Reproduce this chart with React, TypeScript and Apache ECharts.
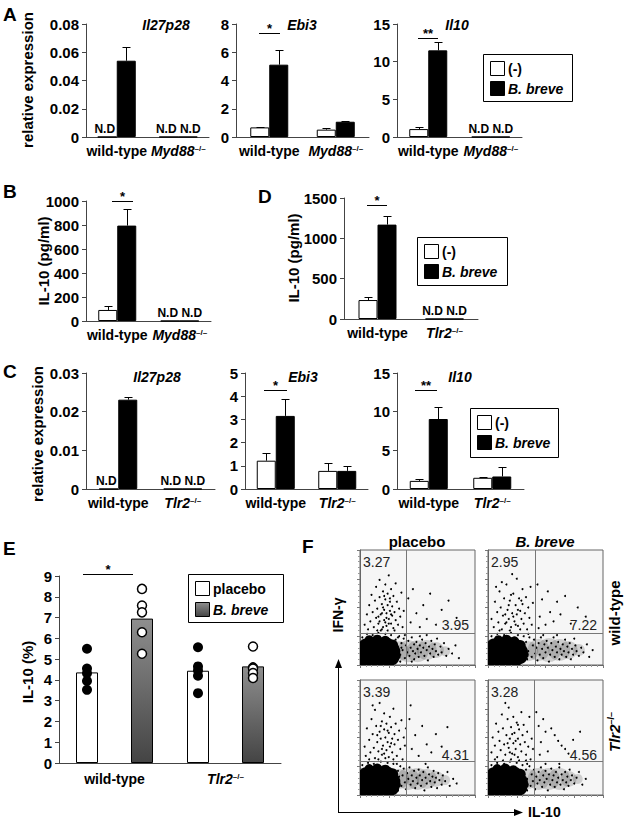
import React, { useEffect, useRef } from 'react';
import * as echarts from 'echarts';

const FONT = "'Liberation Sans', Arial, Helvetica, sans-serif";

// ---------- categories ----------
const CATS_MYD88 = ['wild-type', 'Myd88'];
const CATS_TLR2 = ['wild-type', 'Tlr2'];

// ---------- Panel A (Myd88-/-), null = N.D ----------
const A_IL27_NEG = [null, null];
const A_IL27_NEG_SD = [null, null];
const A_IL27_POS = [0.054, null];
const A_IL27_POS_SD = [0.0095, null];
const A_EBI3_NEG = [0.68, 0.52];
const A_EBI3_NEG_SD = [0.05, 0.12];
const A_EBI3_POS = [5.12, 1.08];
const A_EBI3_POS_SD = [1.03, 0.06];
const A_IL10_NEG = [1.05, null];
const A_IL10_NEG_SD = [0.32, null];
const A_IL10_POS = [11.5, null];
const A_IL10_POS_SD = [1.1, null];

// ---------- Panel B (Myd88-/-, pg/ml) ----------
const B_NEG = [92, null];
const B_NEG_SD = [33, null];
const B_POS = [795, null];
const B_POS_SD = [135, null];

// ---------- Panel D (Tlr2-/-, pg/ml) ----------
const D_NEG = [235, null];
const D_NEG_SD = [35, null];
const D_POS = [1170, null];
const D_POS_SD = [110, null];

// ---------- Panel C (Tlr2-/-) ----------
const C_IL27_NEG = [null, null];
const C_IL27_NEG_SD = [null, null];
const C_IL27_POS = [0.0231, null];
const C_IL27_POS_SD = [0.0008, null];
const C_EBI3_NEG = [1.22, 0.78];
const C_EBI3_NEG_SD = [0.32, 0.32];
const C_EBI3_POS = [3.15, 0.78];
const C_EBI3_POS_SD = [0.73, 0.2];
const C_IL10_NEG = [1.05, 1.45];
const C_IL10_NEG_SD = [0.2, 0.08];
const C_IL10_POS = [9.05, 1.62];
const C_IL10_POS_SD = [1.5, 1.2];

// ---------- axis ranges (max, interval) ----------
const Y_MAX = [0.08, 8, 15, 1000, 1500, 0.03, 5, 15, 9];
const Y_INT = [0.02, 2, 5, 200, 500, 0.01, 1, 5, 1];

// ---------- Panel E ----------
const E_CATS = ['wild-type', 'Tlr2'];
const E_PLACEBO = [4.36, 4.44];
const E_BREVE = [6.95, 4.65];
const E_PLACEBO_PTS = [
  [5.5, 4.55, 4.32, 3.95, 3.52],
  [5.57, 4.65, 4.45, 4.2, 3.36],
];
const E_BREVE_PTS = [
  [8.38, 7.58, 7.25, 6.29, 5.26],
  [5.61, 4.6, 4.55, 4.33, 4.09],
];

// ---------- Panel F (flow cytometry, x = IL-10, y = IFN-γ, 0-100) ----------
const F_QX = [40, 41, 40, 40];
const F_QY = [28, 28, 29, 29];
const F_PCT_UL = ['3.27', '2.95', '3.39', '3.28'];
const F_PCT_LR = ['3.95', '7.22', '4.31', '4.56'];

const F1_DOTS = [
  [4,35],[6,44],[7,31],[8,52],[9,38],[10,61],[11,46],[12,33],[13,56],[14,41],[14,68],[15,49],[16,36],[17,59],[17,74],[18,44],[19,53],[19,31],[20,64],[21,39],[21,48],[22,57],[22,70],[23,34],[23,45],[24,52],[24,62],[25,40],[25,78],[26,47],[26,55],[27,36],[27,66],[28,43],[28,51],[29,60],[29,32],[30,46],[31,39],[31,71],[32,55],[33,35],[34,49],[35,42],[36,63],[37,33],[38,47],[20,33],[18,30],[24,30],[30,30],[15,30],
  [16,42],[20,50],[23,41],[25,36],[19,45],[27,44],[21,60],[17,38],[26,58],[22,37],
  [42,58],[44,37],[46,66],[49,45],[52,33],[55,52],[58,40],[61,62],[66,35],[71,48],[77,56],[84,41],
  [31,22],[33,16],[34,25],[35,9],[36,19],[37,13],[38,23],[39,6],[40,17],[41,11],[42,21],[43,8],[44,15],[45,24],[46,12],[47,5],[47,18],[48,10],[49,20],[50,14],[51,7],[52,17],[53,11],[54,22],[55,15],[56,8],[57,19],[58,13],[59,4],[60,16],[61,10],[62,21],[63,14],[64,7],[65,18],[66,12],[67,23],[68,9],[70,16],[71,11],[73,19],[75,8],[77,14],[80,10],[83,17],[86,6],[45,3],[52,25],[58,26],[39,26],
  [2,24],[6,27],[11,26],[16,28],[22,27],[27,26],[33,24],[35,3],[33,11],[36,15],
];
const F2_DOTS = [
  [3,40],[5,33],[6,55],[8,46],[9,37],[10,64],[11,50],[12,31],[13,43],[14,58],[15,36],[16,70],[17,48],[18,40],[19,56],[20,33],[21,45],[22,62],[23,38],[24,52],[25,75],[25,44],[26,34],[27,58],[28,47],[29,40],[30,66],[30,53],[31,36],[32,45],[33,59],[34,31],[35,50],[36,41],[37,68],[38,35],[39,54],[12,72],[21,79],[7,68],[28,31],[19,30],[10,30],
  [15,44],[18,52],[22,42],[24,35],[26,48],[20,61],[16,37],[29,56],
  [43,70],[45,42],[47,57],[50,35],[52,64],[54,46],[57,38],[60,55],[63,44],[67,60],[72,36],[78,50],[44,32],[85,42],
  [33,20],[35,12],[36,24],[38,7],[39,17],[40,22],[41,10],[42,15],[43,4],[44,19],[45,9],[46,24],[47,14],[48,6],[49,18],[50,11],[51,21],[52,15],[53,3],[54,9],[55,19],[56,13],[57,24],[58,7],[59,16],[60,11],[61,20],[62,5],[63,14],[64,9],[65,18],[66,12],[67,22],[68,7],[69,16],[70,11],[71,19],[72,5],[73,14],[74,9],[76,17],[77,12],[79,8],[81,15],[83,11],[86,18],[88,7],[91,13],[60,26],[48,26],[75,23],
  [3,25],[8,27],[14,26],[20,28],[26,26],[31,25],[34,5],[32,14],[35,27],
];
const F3_DOTS = [
  [4,42],[5,34],[6,58],[8,48],[9,37],[10,66],[11,53],[12,41],[13,32],[13,74],[14,60],[15,46],[16,38],[17,55],[17,80],[18,49],[19,64],[19,35],[20,43],[21,71],[21,57],[22,50],[23,39],[23,62],[24,46],[25,33],[25,54],[26,68],[26,42],[27,59],[28,49],[28,37],[29,75],[30,53],[30,44],[31,62],[32,34],[33,48],[34,56],[35,40],[36,65],[37,31],[38,50],[39,43],[40,58],[8,31],[16,31],[22,32],[29,31],[11,78],
  [15,52],[19,40],[24,56],[27,45],[21,36],[18,60],
  [43,66],[45,40],[48,52],[51,34],[54,60],[58,44],[62,37],[66,53],[71,42],[76,59],[44,78],
  [33,21],[34,13],[35,25],[36,8],[37,17],[38,23],[39,11],[40,5],[41,19],[42,14],[43,24],[44,9],[45,17],[46,12],[47,21],[48,6],[49,15],[50,10],[51,22],[52,17],[53,8],[54,13],[55,20],[56,4],[57,15],[58,10],[59,24],[60,18],[61,12],[62,7],[63,16],[64,21],[65,11],[66,15],[67,6],[68,19],[69,13],[71,9],[72,17],[74,12],[76,20],[78,8],[81,14],[84,10],[57,27],
  [2,26],[7,28],[12,27],[18,29],[24,28],[29,27],[33,4],[34,16],[32,27],
];
const F4_DOTS = [
  [3,37],[4,50],[6,43],[7,62],[8,33],[9,55],[10,47],[11,39],[12,70],[13,58],[14,44],[15,35],[16,52],[17,66],[18,41],[18,76],[19,49],[20,59],[21,36],[22,45],[22,68],[23,54],[24,40],[25,63],[26,33],[26,49],[27,57],[28,44],[29,72],[29,38],[30,52],[31,61],[32,46],[33,35],[34,55],[35,42],[36,68],[37,31],[38,49],[39,40],[6,31],[13,30],[20,31],[27,30],[33,30],[15,80],
  [17,45],[21,53],[24,47],[19,37],[26,61],[23,35],
  [42,72],[44,60],[46,46],[48,66],[50,55],[52,38],[55,58],[58,52],[61,47],[64,43],[67,40],[70,36],[74,48],[80,55],[45,35],
  [33,22],[34,14],[36,25],[37,8],[38,18],[39,12],[40,22],[41,5],[42,16],[43,10],[44,20],[45,13],[46,24],[47,7],[48,17],[49,11],[50,21],[51,14],[52,4],[53,18],[54,9],[55,23],[56,13],[57,17],[58,7],[59,20],[60,11],[61,15],[62,24],[63,9],[64,18],[65,13],[66,5],[67,20],[68,11],[69,16],[70,8],[71,22],[72,13],[73,17],[75,10],[77,15],[79,20],[82,9],[85,14],[62,27],[50,27],
  [3,26],[8,28],[14,27],[19,29],[25,28],[30,26],[34,4],[32,12],[34,27],
];
// dense event cores: [x, y, diameter px]
const F1_BLOB = [[5,5,18],[11,5,18],[17,5,18],[23,5,18],[28,6,14],[5,11,18],[11,11,18],[17,11,18],[23,11,18],[29,12,14],[5,17,14],[11,17,16],[17,17,16],[23,17,16],[28,17,12],[8,22,9],[15,22,10],[22,21,10],[32,8,8]];
const F2_BLOB = [[5,5,18],[11,5,18],[17,5,18],[23,6,18],[28,7,14],[5,11,18],[11,11,18],[17,12,18],[23,12,18],[29,12,13],[5,17,14],[11,17,16],[17,18,16],[23,17,15],[28,17,11],[9,22,9],[16,22,10],[23,21,9],[32,9,8]];
const F3_BLOB = [[5,5,18],[11,5,18],[17,5,18],[23,5,18],[28,6,14],[5,12,18],[11,12,18],[17,12,18],[23,12,18],[29,12,14],[5,18,14],[11,18,16],[17,18,16],[23,18,16],[28,18,12],[8,23,9],[15,23,10],[22,22,10],[32,9,8]];
const F4_BLOB = [[5,5,18],[11,5,18],[17,5,18],[23,5,18],[28,6,14],[5,12,18],[11,12,18],[17,12,18],[23,12,18],[29,12,13],[5,18,14],[11,18,16],[17,18,16],[23,18,15],[28,18,11],[8,23,9],[15,23,10],[22,22,9],[32,9,8]];
const F1_HAZE = [[34,12,20],[42,12,22],[50,12,22],[58,13,20],[66,13,16],[74,12,10]];
const F2_HAZE = [[35,12,20],[44,13,22],[53,13,24],[62,13,22],[70,13,18],[79,13,12]];
const F3_HAZE = [[34,14,20],[42,14,22],[50,14,22],[58,14,20],[66,14,16],[74,13,10]];
const F4_HAZE = [[35,14,20],[44,14,22],[53,14,22],[62,14,22],[70,14,16],[78,14,10]];
const F_DOTS = [F1_DOTS, F2_DOTS, F3_DOTS, F4_DOTS];
const F_BLOB = [F1_BLOB, F2_BLOB, F3_BLOB, F4_BLOB];
const F_HAZE = [F1_HAZE, F2_HAZE, F3_HAZE, F4_HAZE];

// ---------- layout ----------
const BAR_GRIDS = [
  { left: 86, top: 24, width: 123, height: 113 },
  { left: 236, top: 24, width: 133, height: 113 },
  { left: 397, top: 24, width: 125, height: 113 },
  { left: 86, top: 201, width: 125, height: 120 },
  { left: 344, top: 198, width: 134, height: 121 },
  { left: 86, top: 373, width: 129, height: 116 },
  { left: 245, top: 373, width: 123, height: 116 },
  { left: 397, top: 373, width: 127, height: 116 },
  { left: 59, top: 576, width: 222, height: 187 },
];
const FLOW_GRIDS = [
  { left: 360, top: 550, width: 115, height: 115 },
  { left: 488, top: 550, width: 115, height: 115 },
  { left: 360, top: 680, width: 115, height: 115 },
  { left: 488, top: 680, width: 115, height: 115 },
];

const BW = 19;

const xRich = {
  b: { fontFamily: FONT, fontWeight: 'bold', fontSize: 14, color: '#000' },
  i: { fontFamily: FONT, fontWeight: 'bold', fontStyle: 'italic', fontSize: 14, color: '#000' },
  s: { fontFamily: FONT, fontWeight: 'bold', fontSize: 8, color: '#000', verticalAlign: 'top', lineHeight: 9 },
};
const xFormatter = (v: string) => (v === 'wild-type' ? '{b|wild-type}' : `{i|${v}}{s|–/–}`);
const yFormatter = (v: number) => String(parseFloat(Number(v).toPrecision(6)));

function barData(vals: (number | null)[], side: number) {
  return vals.map((v) =>
    v === null
      ? {
          value: 0,
          label: {
            show: true,
            position: 'top',
            distance: 2,
            offset: [side * 2.5, 0],
            formatter: 'N.D',
            fontFamily: FONT,
            fontWeight: 'bold',
            fontSize: 12,
            color: '#000',
          },
        }
      : v
  );
}

function errSeries(idx: number, vals: (number | null)[], sds: (number | null)[], dx: number) {
  const data: number[][] = [];
  vals.forEach((v, i) => {
    const s = sds[i];
    if (v !== null && s !== null && s !== undefined) data.push([i, v, v + s]);
  });
  return {
    type: 'custom',
    xAxisIndex: idx,
    yAxisIndex: idx,
    z: 5,
    silent: true,
    data,
    renderItem: (_p: any, api: any) => {
      const c = api.value(0);
      const m = api.value(1);
      const t = api.value(2);
      const p0 = api.coord([c, m]);
      const p1 = api.coord([c, t]);
      const x = Math.round(p0[0] + dx) + 0.5;
      const yt = Math.round(p1[1]) + 0.5;
      return {
        type: 'group',
        children: [
          { type: 'line', shape: { x1: x, y1: p0[1], x2: x, y2: yt }, style: { stroke: '#000', lineWidth: 1 } },
          { type: 'line', shape: { x1: x - 4, y1: yt, x2: x + 4, y2: yt }, style: { stroke: '#000', lineWidth: 1 } },
        ],
      };
    },
  };
}

function barAxes(idx: number, cats: string[]) {
  const xAxis = {
    type: 'category',
    gridIndex: idx,
    data: cats,
    axisTick: { show: false },
    axisLine: { lineStyle: { color: '#444', width: 1 } },
    axisLabel: { margin: 7, formatter: xFormatter, rich: xRich, interval: 0 },
  };
  const yAxis = {
    type: 'value',
    gridIndex: idx,
    min: 0,
    max: Y_MAX[idx],
    interval: Y_INT[idx],
    splitLine: { show: false },
    axisLine: { show: true, lineStyle: { color: '#444', width: 1 } },
    axisTick: { show: true, length: 4, lineStyle: { color: '#444' } },
    axisLabel: { margin: 7, fontFamily: FONT, fontWeight: 'bold', fontSize: 15, color: '#000', formatter: yFormatter },
  };
  return { xAxis, yAxis };
}

function pairSeries(idx: number, neg: (number | null)[], negSd: (number | null)[], pos: (number | null)[], posSd: (number | null)[]) {
  return [
    {
      type: 'bar',
      name: '(-)',
      xAxisIndex: idx,
      yAxisIndex: idx,
      barWidth: BW,
      barGap: '0%',
      data: barData(neg, -1),
      itemStyle: { color: '#fff', borderColor: '#000', borderWidth: 1 },
    },
    {
      type: 'bar',
      name: 'B. breve',
      xAxisIndex: idx,
      yAxisIndex: idx,
      barWidth: BW,
      barGap: '0%',
      data: barData(pos, 1),
      itemStyle: { color: '#000', borderColor: '#000', borderWidth: 1 },
    },
    errSeries(idx, neg, negSd, -BW / 2),
    errSeries(idx, pos, posSd, BW / 2),
  ];
}

function txt(text: string, x: number, y: number, o: any = {}) {
  const align = o.align || 'center';
  return {
    type: 'text',
    x,
    y,
    rotation: o.rot || 0,
    z: 20,
    silent: true,
    style: {
      text,
      fontFamily: FONT,
      fontSize: o.size || 14,
      fontWeight: o.weight || 'bold',
      fontStyle: o.italic ? 'italic' : 'normal',
      fill: o.color || '#000',
      textAlign: align,
      align,
      textVerticalAlign: 'middle',
      verticalAlign: 'middle',
      rich: o.rich,
    },
  };
}
function ln(x1: number, y1: number, x2: number, y2: number, w = 1) {
  return { type: 'line', z: 20, silent: true, shape: { x1, y1, x2, y2 }, style: { stroke: '#000', lineWidth: w } };
}
function box(x: number, y: number, w: number, h: number, fill: any) {
  return { type: 'rect', z: 20, silent: true, shape: { x, y, width: w, height: h }, style: { fill, stroke: '#000', lineWidth: 1 } };
}
function sig(x1: number, x2: number, y: number, star: string) {
  return [ln(x1, y + 0.5, x2, y + 0.5), txt(star, (x1 + x2) / 2, y - 5, { size: 13 })];
}
function legend(x: number, y: number, w: number, h: number, labels: string[], fills: any[], dy: number) {
  const els: any[] = [box(x + 0.5, y + 0.5, w, h, '#fff')];
  labels.forEach((l, i) => {
    const sy = y + 7 + i * dy;
    els.push(box(x + 7.5, sy + 0.5, 14, 14, fills[i]));
    els.push(txt(l, x + 25, sy + 7.5, { align: 'left', italic: l !== '(-)' && l !== 'placebo', size: 14 }));
  });
  return els;
}

// circles rendered through the grid's own scales, clipped to the plot box
function cloudSeries(gi: number, data: number[][], color: string) {
  return {
    type: 'custom',
    xAxisIndex: gi,
    yAxisIndex: gi,
    silent: true,
    clip: true,
    data,
    renderItem: (_p: any, api: any) => {
      const c = api.coord([api.value(0), api.value(1)]);
      return { type: 'circle', shape: { cx: c[0], cy: c[1], r: api.value(2) / 2 }, style: { fill: color } };
    },
  };
}

export default function App() {
  const ref = useRef<HTMLDivElement>(null);
  useEffect(() => {
    if (!ref.current) return;
    const chart = echarts.init(ref.current, null, { renderer: 'svg' });

    const grids: any[] = [];
    const xAxes: any[] = [];
    const yAxes: any[] = [];
    const series: any[] = [];

    BAR_GRIDS.forEach((g) => grids.push({ ...g, containLabel: false }));
    const catsFor = [CATS_MYD88, CATS_MYD88, CATS_MYD88, CATS_MYD88, CATS_TLR2, CATS_TLR2, CATS_TLR2, CATS_TLR2, E_CATS];
    catsFor.forEach((c, i) => {
      const a = barAxes(i, c);
      xAxes.push(a.xAxis);
      yAxes.push(a.yAxis);
    });
    xAxes[8].axisLabel.margin = 9;

    series.push(...pairSeries(0, A_IL27_NEG, A_IL27_NEG_SD, A_IL27_POS, A_IL27_POS_SD));
    series.push(...pairSeries(1, A_EBI3_NEG, A_EBI3_NEG_SD, A_EBI3_POS, A_EBI3_POS_SD));
    series.push(...pairSeries(2, A_IL10_NEG, A_IL10_NEG_SD, A_IL10_POS, A_IL10_POS_SD));
    series.push(...pairSeries(3, B_NEG, B_NEG_SD, B_POS, B_POS_SD));
    series.push(...pairSeries(4, D_NEG, D_NEG_SD, D_POS, D_POS_SD));
    series.push(...pairSeries(5, C_IL27_NEG, C_IL27_NEG_SD, C_IL27_POS, C_IL27_POS_SD));
    series.push(...pairSeries(6, C_EBI3_NEG, C_EBI3_NEG_SD, C_EBI3_POS, C_EBI3_POS_SD));
    series.push(...pairSeries(7, C_IL10_NEG, C_IL10_NEG_SD, C_IL10_POS, C_IL10_POS_SD));

    // Panel E
    const grayGrad = () =>
      new echarts.graphic.LinearGradient(0, 0, 0, 1, [
        { offset: 0, color: '#8e8e8e' },
        { offset: 1, color: '#444444' },
      ]);
    const EBW = 22;
    const EOFF = 27.5;
    series.push({
      type: 'bar', name: 'placebo', xAxisIndex: 8, yAxisIndex: 8, barWidth: EBW, barGap: '150%',
      data: E_PLACEBO, itemStyle: { color: '#fff', borderColor: '#000', borderWidth: 1 },
    });
    series.push({
      type: 'bar', name: 'B. breve (E)', xAxisIndex: 8, yAxisIndex: 8, barWidth: EBW, barGap: '150%',
      data: E_BREVE, itemStyle: { color: grayGrad(), borderColor: '#000', borderWidth: 1 },
    });
    const ptsData = (pts: number[][]) => pts.flatMap((arr, ci) => arr.map((v) => [ci, v]));
    series.push({
      type: 'scatter', xAxisIndex: 8, yAxisIndex: 8, z: 6, symbolSize: 10, symbolOffset: [-EOFF, 0],
      data: ptsData(E_PLACEBO_PTS), itemStyle: { color: '#000', opacity: 1 }, silent: true,
    });
    series.push({
      type: 'scatter', xAxisIndex: 8, yAxisIndex: 8, z: 6, symbolSize: 9, symbolOffset: [EOFF, 0],
      data: ptsData(E_BREVE_PTS), itemStyle: { color: '#fff', borderColor: '#000', borderWidth: 1.5, opacity: 1 }, silent: true,
    });

    // Panel F flow plots
    FLOW_GRIDS.forEach((g, k) => {
      const gi = 9 + k;
      grids.push({ ...g, show: true, backgroundColor: '#f6f6f6', borderColor: '#666', borderWidth: 1 });
      const ax = () => ({
        type: 'value', gridIndex: gi, min: 0, max: 100, interval: 25,
        axisLabel: { show: false }, splitLine: { show: false },
        axisLine: { show: true, lineStyle: { color: '#666' } },
        axisTick: { show: true, length: 3, lineStyle: { color: '#777' } },
        minorTick: { show: true, splitNumber: 5, length: 2, lineStyle: { color: '#999' } },
      });
      xAxes.push(ax());
      yAxes.push(ax());
      series.push(cloudSeries(gi, F_HAZE[k], 'rgba(0,0,0,0.16)'));
      series.push(cloudSeries(gi, F_BLOB[k], '#000'));
      series.push({
        type: 'scatter', xAxisIndex: gi, yAxisIndex: gi, silent: true, data: F_DOTS[k],
        symbolSize: 2, itemStyle: { color: '#000', opacity: 1 },
        markLine: {
          silent: true, symbol: ['none', 'none'], label: { show: false },
          lineStyle: { color: '#777', width: 1, type: 'solid' },
          data: [{ xAxis: F_QX[k] }, { yAxis: F_QY[k] }],
        },
      });
    });

    // ---------- graphic annotations ----------
    const G: any[] = [];
    [['A', 3, 14], ['B', 3, 191], ['C', 3, 371], ['D', 258, 196], ['E', 3, 548], ['F', 302, 546]].forEach(([t, x, y]) =>
      G.push(txt(t as string, x as number, y as number, { align: 'left', size: 19 }))
    );
    const R = Math.PI / 2;
    G.push(txt('relative expression', 27, 80, { rot: R, size: 15 }));
    G.push(txt('IL-10 (pg/ml)', 43, 261, { rot: R, size: 15 }));
    G.push(txt('IL-10 (pg/ml)', 293, 258, { rot: R, size: 15 }));
    G.push(txt('relative expression', 37, 434, { rot: R, size: 15 }));
    G.push(txt('IL-10 (%)', 27, 672, { rot: R, size: 15 }));
    G.push(txt('Il27p28', 166, 25, { italic: true, size: 14 }));
    G.push(txt('Ebi3', 302, 25, { italic: true, size: 14 }));
    G.push(txt('Il10', 457, 25, { italic: true, size: 14 }));
    G.push(txt('Il27p28', 157, 377, { italic: true, size: 14 }));
    G.push(txt('Ebi3', 303, 377, { italic: true, size: 14 }));
    G.push(txt('Il10', 460, 377, { italic: true, size: 14 }));
    G.push(...sig(259, 280, 33, '*'));
    G.push(...sig(418, 438, 38, '**'));
    G.push(...sig(112, 133, 201, '*'));
    G.push(...sig(367, 387, 205, '*'));
    G.push(...sig(264, 287, 390, '*'));
    G.push(...sig(415, 437, 390, '**'));
    G.push(...sig(83, 133, 574, '*'));
    G.push(...legend(483, 54, 89, 47, ['(-)', 'B. breve'], ['#fff', '#000'], 20));
    G.push(...legend(417, 237, 90, 48, ['(-)', 'B. breve'], ['#fff', '#000'], 20));
    G.push(...legend(470, 408, 88, 49, ['(-)', 'B. breve'], ['#fff', '#000'], 20));
    G.push(...legend(188, 574, 95, 48, ['placebo', 'B. breve'], ['#fff', grayGrad()], 21));
    G.push(txt('placebo', 417, 541, { size: 15 }));
    G.push(txt('B. breve', 545, 541, { size: 15, italic: true }));
    G.push(txt('wild-type', 614, 613, { rot: R, size: 15 }));
    G.push(
      txt('{i|Tlr2}{s|–/–}', 614, 732, {
        rot: R,
        size: 15,
        rich: {
          i: { fontFamily: FONT, fontWeight: 'bold', fontStyle: 'italic', fontSize: 15, fill: '#000' },
          s: { fontFamily: FONT, fontWeight: 'bold', fontSize: 9, fill: '#000', verticalAlign: 'top', lineHeight: 10 },
        },
      })
    );
    FLOW_GRIDS.forEach((g, k) => {
      G.push(txt(F_PCT_UL[k], g.left + 3, g.top + 12, { align: 'left', weight: 'normal', size: 14, color: '#222' }));
      G.push(txt(F_PCT_LR[k], g.left + g.width - 6, g.top + 75, { align: 'right', weight: 'normal', size: 14, color: '#222' }));
    });
    G.push(ln(338.5, 812, 338.5, 666));
    G.push({ type: 'polygon', z: 20, silent: true, shape: { points: [[338.5, 659], [335, 668], [342, 668]] }, style: { fill: '#000' } });
    G.push(ln(338, 812.5, 516, 812.5));
    G.push({ type: 'polygon', z: 20, silent: true, shape: { points: [[523, 812.5], [514, 809], [514, 816]] }, style: { fill: '#000' } });
    G.push(txt('IFN-γ', 338, 615, { rot: R, size: 14 }));
    G.push(txt('IL-10', 528, 812, { align: 'left', size: 14 }));

    chart.setOption({
      animation: false,
      textStyle: { fontFamily: FONT },
      grid: grids,
      xAxis: xAxes,
      yAxis: yAxes,
      series,
      graphic: G,
    });
    return () => chart.dispose();
  }, []);

  return <div ref={ref} style={{ position: 'absolute', left: 0, top: 0, width: 626, height: 821, background: '#fff' }} />;
}
